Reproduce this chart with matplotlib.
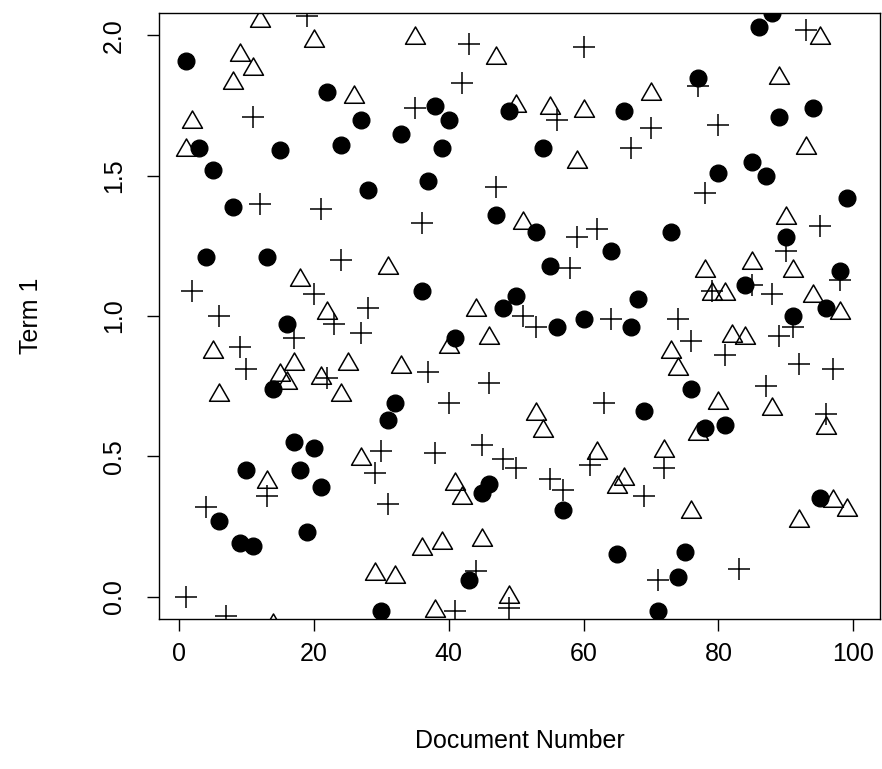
import matplotlib
matplotlib.use("Agg")
import matplotlib.pyplot as plt
from matplotlib.path import Path

plt.rcParams["font.family"] = ["Liberation Sans", "DejaVu Sans"]

# filled circles
circle_x = [1, 3, 4, 5, 6, 8, 9, 10, 11, 13, 14, 15, 16, 17, 18, 19, 20, 21, 22, 24,
            27, 28, 30, 31, 32, 33, 36, 37, 38, 39, 40, 41, 43, 45, 46, 47, 48, 49, 50, 53,
            54, 55, 56, 57, 60, 64, 65, 66, 67, 68, 69, 71, 73, 74, 75, 76, 77, 78, 80, 81,
            84, 85, 86, 87, 88, 89, 90, 91, 94, 95, 96, 98, 99]
circle_y = [1.91, 1.60, 1.21, 1.52, 0.27, 1.39, 0.19, 0.45, 0.18, 1.21,
            0.74, 1.59, 0.97, 0.55, 0.45, 0.23, 0.53, 0.39, 1.80, 1.61,
            1.70, 1.45, -0.05, 0.63, 0.69, 1.65, 1.09, 1.48, 1.75, 1.60,
            1.70, 0.92, 0.06, 0.37, 0.40, 1.36, 1.03, 1.73, 1.07, 1.30,
            1.60, 1.18, 0.96, 0.31, 0.99, 1.23, 0.15, 1.73, 0.96, 1.06,
            0.66, -0.05, 1.30, 0.07, 0.16, 0.74, 1.85, 0.60, 1.51, 0.61,
            1.11, 1.55, 2.03, 1.50, 2.08, 1.71, 1.28, 1.00, 1.74, 0.35,
            1.03, 1.16, 1.42]

# open triangles
tri_x = [1, 2, 5, 6, 8, 9, 11, 12, 13, 14, 15, 16, 17, 18, 20, 21, 22, 24, 25, 26,
         27, 29, 31, 32, 33, 35, 36, 38, 39, 40, 41, 42, 44, 45, 46, 47, 49, 50, 51, 53,
         54, 55, 59, 60, 62, 65, 66, 70, 72, 73, 74, 76, 77, 78, 79, 80, 81, 82, 84, 85,
         88, 89, 90, 91, 92, 93, 94, 95, 96, 97, 98, 99]
tri_y = [1.59, 1.69, 0.87, 0.72, 1.83, 1.93, 1.88, 2.05, 0.41, -0.10,
         0.79, 0.76, 0.83, 1.13, 1.98, 0.78, 1.01, 0.72, 0.83, 1.78,
         0.49, 0.08, 1.17, 0.07, 0.82, 1.99, 0.17, -0.05, 0.19, 0.89,
         0.40, 0.35, 1.02, 0.20, 0.92, 1.92, 0.00, 1.75, 1.33, 0.65,
         0.59, 1.74, 1.55, 1.73, 0.51, 0.39, 0.42, 1.79, 0.52, 0.87,
         0.81, 0.30, 0.58, 1.16, 1.08, 0.69, 1.08, 0.93, 0.92, 1.19,
         0.67, 1.85, 1.35, 1.16, 0.27, 1.60, 1.07, 1.99, 0.60, 0.34,
         1.01, 0.31]

# plus signs
plus_x = [1, 2, 4, 6, 7, 9, 10, 11, 12, 13, 17, 19, 20, 21, 22, 23, 24, 27, 28, 29,
          30, 31, 35, 36, 37, 38, 40, 41, 42, 43, 44, 45, 46, 47, 48, 49, 50, 51, 53, 55,
          56, 57, 58, 59, 60, 61, 62, 63, 64, 67, 69, 70, 71, 72, 74, 76, 77, 78, 79, 80,
          81, 83, 85, 87, 88, 89, 90, 91, 92, 93, 95, 96, 97, 98]
plus_y = [0.00, 1.09, 0.32, 1.00, -0.07, 0.89, 0.81, 1.71, 1.40, 0.36,
          0.92, 2.07, 1.08, 1.38, 0.78, 0.97, 1.20, 0.94, 1.03, 0.44,
          0.52, 0.33, 1.74, 1.33, 0.80, 0.51, 0.69, -0.05, 1.83, 1.97,
          0.09, 0.54, 0.76, 1.46, 0.49, -0.04, 0.46, 1.00, 0.96, 0.42,
          1.70, 0.38, 1.17, 1.28, 1.96, 0.47, 1.31, 0.69, 0.99, 1.60,
          0.36, 1.67, 0.06, 0.46, 0.99, 0.91, 1.82, 1.44, 1.09, 1.68,
          0.86, 0.10, 1.11, 0.75, 1.08, 0.93, 1.23, 0.96, 0.83, 2.02,
          1.32, 0.65, 0.81, 1.13]

x_ticks = [0, 20, 40, 60, 80, 100]
y_ticks = [0.0, 0.5, 1.0, 1.5, 2.0]
y_tick_labels = ["0.0", "0.5", "1.0", "1.5", "2.0"]

# R-style equilateral triangle (pch = 2)
tri_marker = Path([(0, 1), (-0.866, -0.5), (0.866, -0.5), (0, 1)],
                  [Path.MOVETO, Path.LINETO, Path.LINETO, Path.CLOSEPOLY])

W, H = 882, 769
fig = plt.figure(figsize=(W / 100, H / 100), dpi=100)
ax = fig.add_axes([159 / W, (H - 619) / H, (880 - 159) / W, (619 - 13) / H])

ax.plot(circle_x, circle_y, "o", color="black", markersize=12, linestyle="none")
ax.plot(tri_x, tri_y, marker=tri_marker, linestyle="none", markersize=16.6,
        markerfacecolor="none", markeredgecolor="black", markeredgewidth=1.1)
ax.plot(plus_x, plus_y, "+", color="black", markersize=15.5,
        markeredgewidth=1.1, linestyle="none")

ax.set_xlim(-2.96, 103.96)
ax.set_ylim(-0.08, 2.08)
ax.set_xticks(x_ticks)
ax.set_yticks(y_ticks)
ax.set_yticklabels(y_tick_labels, rotation=90, va="center", ha="center")
ax.tick_params(axis="both", labelsize=18, length=8.5, width=1.0, direction="out")
ax.tick_params(axis="x", pad=8)
ax.tick_params(axis="y", pad=24)
for sp in ax.spines.values():
    sp.set_linewidth(1.0)

fig.text(519.5 / W, 1 - 741 / H, "Document Number", ha="center", va="center", fontsize=18)
fig.text(31 / W, 1 - 316 / H, "Term 1", ha="center", va="center", fontsize=18, rotation=90)

fig.savefig("out.png", dpi=100)
